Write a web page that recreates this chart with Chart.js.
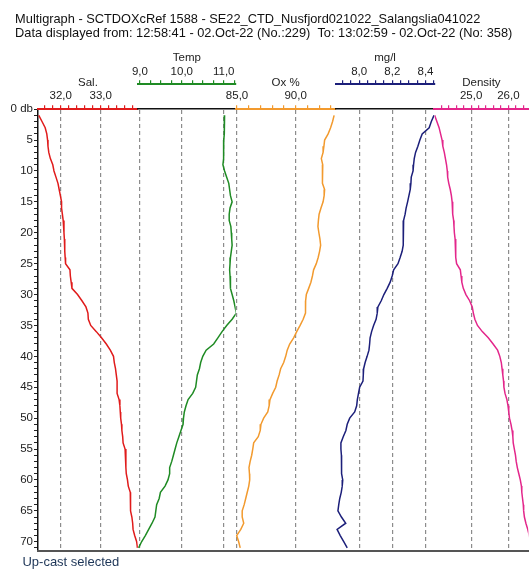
<!DOCTYPE html>
<html>
<head>
<meta charset="utf-8">
<title>Multigraph</title>
<script src="https://cdn.jsdelivr.net/npm/chart.js@4.4.1/dist/chart.umd.min.js"></script>
<style>
  html, body { margin: 0; padding: 0; background: #fff; }
  #wrap { width: 529px; height: 570px; position: relative; }
</style>
</head>
<body>
<div id="wrap"><canvas id="multigraph"></canvas></div>
<script>
// pressure (db), one reading per db on the up-cast
const depths = [
  1, 2, 3, 4, 5, 6, 7, 8, 9, 10, 11, 12, 13, 14, 15, 16, 17, 18, 19, 20,
  21, 22, 23, 24, 25, 26, 27, 28, 29, 30, 31, 32, 33, 34, 35, 36, 37, 38, 39, 40,
  41, 42, 43, 44, 45, 46, 47, 48, 49, 50, 51, 52, 53, 54, 55, 56, 57, 58, 59, 60,
  61, 62, 63, 64, 65, 66, 67, 68, 69, 70, 71
];

const salinity = [
  31.45, 31.53, 31.61, 31.65, 31.67, 31.68, 31.70, 31.74, 31.80, 31.83,
  31.88, 31.93, 31.96, 31.99, 32.02, 32.02, 32.04, 32.06, 32.08, 32.08,
  32.09, 32.10, 32.10, 32.11, 32.12, 32.23, 32.24, 32.26, 32.28, 32.42,
  32.53, 32.63, 32.68, 32.69, 32.75, 32.89, 33.02, 33.14, 33.24, 33.32,
  33.34, 33.37, 33.39, 33.41, 33.41, 33.41, 33.46, 33.48, 33.49, 33.50,
  33.52, 33.53, 33.55, 33.56, 33.61, 33.63, 33.63, 33.63, 33.64, 33.67,
  33.69, 33.74, 33.74, 33.75, 33.75, 33.78, 33.80, 33.81, 33.85, 33.90,
  33.92
];

const temperature = [
  11.02, 11.02, 11.01, 11.01, 11.00, 11.00, 11.00, 10.99, 10.98, 11.02,
  11.07, 11.12, 11.14, 11.16, 11.20, 11.15, 11.13, 11.13, 11.17, 11.18,
  11.19, 11.20, 11.18, 11.16, 11.15, 11.14, 11.15, 11.15, 11.17, 11.20,
  11.24, 11.27, 11.30, 11.20, 11.07, 10.96, 10.86, 10.76, 10.58, 10.50,
  10.45, 10.42, 10.37, 10.35, 10.33, 10.26, 10.15, 10.10, 10.06, 10.04,
  10.03, 9.98, 9.93, 9.88, 9.84, 9.80, 9.76, 9.71, 9.71, 9.67,
  9.60, 9.49, 9.46, 9.40, 9.38, 9.36, 9.29, 9.21, 9.13, 9.04,
  8.97
];

const oxygenPct = [
  93.28, 93.15, 92.98, 92.77, 92.47, 92.41, 92.34, 92.19, 92.31, 92.30,
  92.28, 92.27, 92.47, 92.43, 92.34, 92.16, 92.00, 91.94, 91.90, 91.98,
  92.07, 92.13, 92.04, 91.92, 91.76, 91.53, 91.43, 91.30, 91.11, 90.91,
  90.85, 90.85, 90.83, 90.64, 90.38, 90.09, 89.83, 89.49, 89.28, 89.15,
  88.98, 88.72, 88.59, 88.42, 88.30, 88.04, 87.81, 87.74, 87.62, 87.27,
  87.04, 86.98, 86.81, 86.42, 86.34, 86.25, 86.12, 86.02, 86.06, 86.08,
  86.00, 85.87, 85.74, 85.61, 85.44, 85.44, 85.57, 85.32, 84.97, 85.14,
  85.27
];

const oxygenMgL = [
  8.451, 8.435, 8.422, 8.380, 8.366, 8.354, 8.340, 8.332, 8.328, 8.325,
  8.314, 8.312, 8.308, 8.300, 8.292, 8.283, 8.277, 8.268, 8.265, 8.265,
  8.268, 8.265, 8.259, 8.247, 8.234, 8.208, 8.199, 8.187, 8.169, 8.149,
  8.133, 8.113, 8.109, 8.102, 8.087, 8.075, 8.066, 8.063, 8.059, 8.048,
  8.036, 8.027, 8.025, 8.023, 8.003, 7.996, 7.989, 7.985, 7.973, 7.943,
  7.928, 7.920, 7.904, 7.890, 7.890, 7.893, 7.893, 7.893, 7.896, 7.901,
  7.898, 7.892, 7.883, 7.877, 7.872, 7.893, 7.919, 7.867, 7.886, 7.907,
  7.928
];

const density = [
  24.02, 24.08, 24.14, 24.18, 24.22, 24.24, 24.28, 24.31, 24.34, 24.36,
  24.37, 24.40, 24.44, 24.47, 24.49, 24.50, 24.51, 24.53, 24.54, 24.55,
  24.57, 24.58, 24.59, 24.59, 24.61, 24.71, 24.73, 24.75, 24.79, 24.86,
  24.96, 25.03, 25.06, 25.10, 25.17, 25.30, 25.46, 25.59, 25.71, 25.77,
  25.81, 25.83, 25.85, 25.87, 25.88, 25.91, 25.96, 25.99, 26.01, 26.03,
  26.07, 26.10, 26.12, 26.13, 26.16, 26.19, 26.21, 26.24, 26.28, 26.32,
  26.35, 26.36, 26.38, 26.40, 26.41, 26.43, 26.47, 26.52, 26.56, 26.60,
  26.64
];

// leading spaces indent the text past the narrow left margin
const titleLines = [
  '  Multigraph - SCTDOXcRef 1588 - SE22_CTD_Nusfjord021022_Salangslia041022',
  '  Data displayed from: 12:58:41 - 02.Oct-22 (No.:229)  To: 13:02:59 - 02.Oct-22 (No: 358)'
];
const footer = '    Up-cast selected';

const font = { family: '"Liberation Sans", Arial, sans-serif', size: 11.5 };

const isMajor = (v, major) => Math.abs(v / major - Math.round(v / major)) < 1e-6;

// each parameter owns a slice of the top edge; two rows of slices
const topAxis = ({ row, weight, width, min, max, step, major, color, title }) => ({
  type: 'linear',
  position: 'top',
  stack: row,
  stackWeight: width,
  weight: weight,
  min: min,
  max: max,
  afterFit: s => { s.height = row === 'upper' ? 44 : 25; },
  border: { color: color, width: 2, dash: [4, 3] },
  grid: {
    color: c => isMajor(c.tick.value, major) ? '#8c8c8c' : 'transparent',
    lineWidth: 1.2,
    tickColor: color,
    tickLength: 4
  },
  ticks: {
    stepSize: step,
    includeBounds: false,
    autoSkip: false,
    maxRotation: 0,
    padding: row === 'upper' ? 1 : 2.5,
    color: '#222',
    font: font,
    callback: v => isMajor(v, major) ? v.toFixed(1).replace('.', ',') : ''
  },
  title: {
    display: true, text: title, color: '#222', font: font,
    padding: { top: row === 'upper' ? 11 : -8, bottom: 0 }
  }
});

// empty slices so the rows line up
const gapAxis = (row, weight, width, line) => ({
  type: 'linear',
  position: 'top',
  stack: row,
  stackWeight: width,
  weight: weight,
  afterFit: s => { s.height = 0; },
  border: { display: line, color: '#111', width: 1.5 },
  grid: { display: false, drawTicks: false },
  ticks: { display: false }
});

const profile = (values, axis, color) => ({
  data: depths.map((d, i) => ({ x: values[i], y: d })),
  xAxisID: axis,
  yAxisID: 'y',
  borderColor: color,
  borderWidth: 1.5,
  pointRadius: 0,
  tension: 0,
  fill: false
});

const ctx = document.getElementById('multigraph').getContext('2d');
new Chart(ctx, {
  type: 'line',
  data: {
    datasets: [
      profile(salinity, 'sal', '#e01b1b'),
      profile(temperature, 'tmp', '#1f8b24'),
      profile(oxygenPct, 'oxp', '#f29a2e'),
      profile(oxygenMgL, 'oxm', '#1c1f7a'),
      profile(density, 'den', '#e3268b')
    ]
  },
  options: {
    indexAxis: 'y',
    responsive: true,
    maintainAspectRatio: false,
    animation: false,
    layout: { padding: { left: 8, right: 0, top: 0, bottom: 0 } },
    plugins: {
      legend: { display: false },
      tooltip: { enabled: false },
      title: {
        display: true, align: 'start', text: titleLines, color: '#111',
        font: { family: font.family, size: 12.8, weight: 'normal', lineHeight: 1.1 },
        padding: { top: 12, bottom: 0 }
      },
      subtitle: {
        display: true, position: 'bottom', align: 'start', text: footer, color: '#1d3557',
        font: { family: font.family, size: 13, weight: 'normal', lineHeight: 1.1 },
        padding: { top: 3, bottom: 0 }
      }
    },
    scales: {
      y: {
        type: 'linear',
        position: 'left',
        reverse: true,
        min: 0,
        max: 71.45,
        afterFit: s => { s.width = 30; },
        border: { color: '#111', width: 1.5 },
        grid: { drawOnChartArea: false, tickColor: '#222', tickLength: 4 },
        ticks: {
          stepSize: 1, includeBounds: false, autoSkip: false, padding: 1,
          color: '#222', font: font,
          callback: v => v % 5 === 0 ? (v === 0 ? '0 db' : String(v)) : ''
        }
      },
      gA: gapAxis('upper', 60, 100, false),
      tmp: topAxis({ row: 'upper', weight: 59, width: 98, min: 8.952, max: 11.286, step: 0.25, major: 1, color: '#1f8b24', title: 'Temp' }),
      gB: gapAxis('upper', 58, 100, false),
      oxm: topAxis({ row: 'upper', weight: 57, width: 99, min: 7.858, max: 8.454, step: 0.05, major: 0.2, color: '#1c1f7a', title: 'mg/l' }),
      gC: gapAxis('upper', 56, 94, false),
      sal: topAxis({ row: 'lower', weight: 50, width: 100, min: 31.43, max: 33.93, step: 0.2, major: 1, color: '#e01b1b', title: 'Sal.' }),
      g1: gapAxis('lower', 49, 98, true),
      oxp: topAxis({ row: 'lower', weight: 48, width: 100, min: 84.889, max: 93.407, step: 1, major: 5, color: '#f29a2e', title: 'Ox %' }),
      g2: gapAxis('lower', 47, 99, true),
      den: topAxis({ row: 'lower', weight: 46, width: 94, min: 24.016, max: 26.536, step: 0.2, major: 1, color: '#e3268b', title: 'Density' }),
      bot: {
        type: 'linear',
        position: 'bottom',
        afterFit: s => { s.height = 2; },
        border: { color: '#555', width: 2 },
        grid: { display: false, drawTicks: false },
        ticks: { display: false }
      }
    }
  }
});
</script>
</body>
</html>
